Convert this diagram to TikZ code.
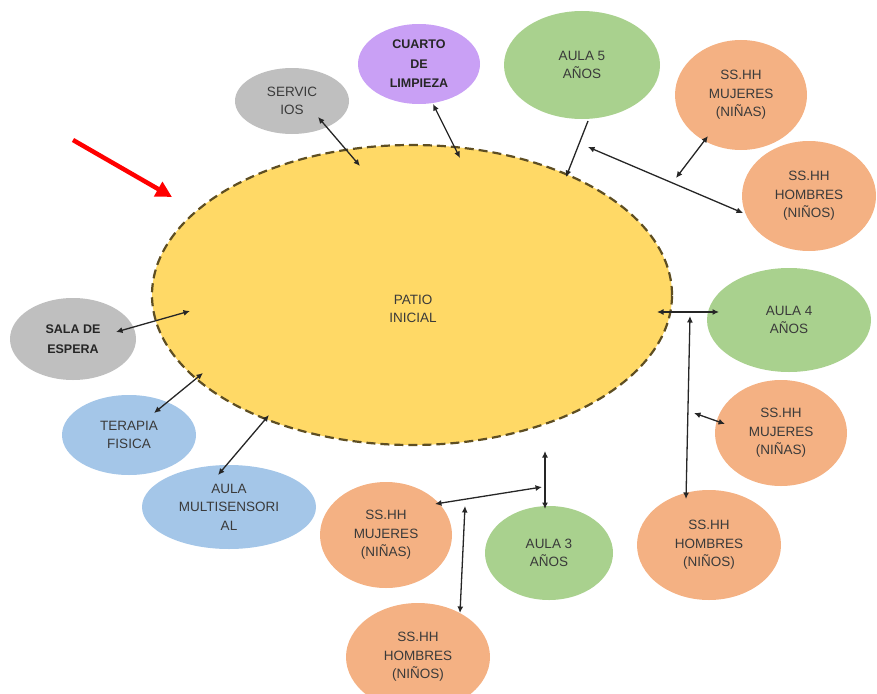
\documentclass[tikz,border=0pt]{standalone}
\usepackage{fontspec}
\setmainfont{Liberation Sans}
\usetikzlibrary{shapes.geometric,arrows.meta}
\definecolor{patiofill}{HTML}{FFD966}
\definecolor{patioline}{HTML}{5E4E22}
\definecolor{grayfill}{HTML}{BFBFBF}
\definecolor{purplefill}{HTML}{C9A0F5}
\definecolor{greenfill}{HTML}{A9D18E}
\definecolor{orangefill}{HTML}{F4B183}
\definecolor{bluefill}{HTML}{A4C6E8}
\definecolor{txt}{HTML}{3A3A3A}
\tikzset{
  room/.style={ellipse, inner sep=0pt, text=txt, align=center,
    font=\fontsize{13.5}{18.5}\selectfont},
  boldroom/.style={room, text=black!85, font=\bfseries\fontsize{12.5}{19.5}\selectfont},
  conn/.style={line width=1.3pt, draw=black!85, {Latex[length=6.5pt,width=6pt]}-{Latex[length=6.5pt,width=6pt]}},
  conn1/.style={line width=1.3pt, draw=black!85, -{Latex[length=6.5pt,width=6pt]}},
}
\begin{document}
\begin{tikzpicture}[x=1pt,y=-1pt]
\useasboundingbox (0,0) rectangle (877,693);
% main patio
\node[ellipse, inner sep=0pt, fill=patiofill, draw=patioline, line width=2.2pt, dash pattern=on 9pt off 5pt,
  minimum width=520pt, minimum height=300pt] (patio) at (412,295) {};
\node[room] (patiotext) at (413,309) {PATIO\\INICIAL};
% rooms
\node[room, fill=grayfill, minimum width=114pt, minimum height=66pt] (serv) at (292,101) {SERVIC\\IOS};
\node[boldroom, fill=purplefill, minimum width=122pt, minimum height=80pt] (cuarto) at (419,64) {CUARTO\\DE\\LIMPIEZA};
\node[room, fill=greenfill, minimum width=156pt, minimum height=108pt] (aula5) at (582,65) {AULA 5\\AÑOS};
\node[room, fill=orangefill, minimum width=132pt, minimum height=110pt] (muj1) at (741,95) {SS.HH\\MUJERES\\(NIÑAS)};
\node[room, fill=orangefill, minimum width=134pt, minimum height=110pt] (hom1) at (809,196) {SS.HH\\HOMBRES\\(NIÑOS)};
\node[room, fill=greenfill, minimum width=164pt, minimum height=104pt] (aula4) at (789,320) {AULA 4\\AÑOS};
\node[room, fill=orangefill, minimum width=132pt, minimum height=106pt] (muj2) at (781,433) {SS.HH\\MUJERES\\(NIÑAS)};
\node[room, fill=orangefill, minimum width=144pt, minimum height=110pt] (hom2) at (709,545) {SS.HH\\HOMBRES\\(NIÑOS)};
\node[room, fill=greenfill, minimum width=128pt, minimum height=94pt] (aula3) at (549,553) {AULA 3\\AÑOS};
\node[room, fill=orangefill, minimum width=132pt, minimum height=106pt] (muj3) at (386,535) {SS.HH\\MUJERES\\(NIÑAS)};
\node[room, fill=orangefill, minimum width=144pt, minimum height=108pt] (hom3) at (418,657) {SS.HH\\HOMBRES\\(NIÑOS)};
\node[boldroom, fill=grayfill, minimum width=126pt, minimum height=82pt] (sala) at (73,339) {SALA DE\\ESPERA};
\node[room, fill=bluefill, minimum width=134pt, minimum height=80pt] (terapia) at (129,435) {TERAPIA\\FISICA};
\node[room, fill=bluefill, minimum width=174pt, minimum height=84pt] (multi) at (229,507) {AULA\\MULTISENSORI\\AL};
% connector end points
\coordinate (a1) at (318,117); \coordinate (b1) at (360,166);
\coordinate (a2) at (433,104); \coordinate (b2) at (460,158);
\coordinate (a3) at (588,121); \coordinate (b3) at (566,177);
\coordinate (a4) at (588,147); \coordinate (b4) at (743,213);
\coordinate (a5) at (708,136); \coordinate (b5) at (676,178);
\coordinate (a6) at (657,312); \coordinate (b6) at (719,312);
\coordinate (a7) at (690,316); \coordinate (b7) at (686,499);
\coordinate (a8) at (694,413); \coordinate (b8) at (725,424);
\coordinate (a9) at (545,451); \coordinate (b9) at (545,509);
\coordinate (a10) at (435,504); \coordinate (b10) at (542,487);
\coordinate (a11) at (465,506); \coordinate (b11) at (460,613);
\coordinate (a12) at (116,332); \coordinate (b12) at (190,311);
\coordinate (a13) at (154,413); \coordinate (b13) at (203,373);
\coordinate (a14) at (218,475); \coordinate (b14) at (269,415);
% connectors
\draw[conn] (a1) -- (b1);
\draw[conn] (a2) -- (b2);
\draw[conn1] (a3) -- (b3);
\draw[conn] (a4) -- (b4);
\draw[conn] (a5) -- (b5);
\draw[conn] (a6) -- (b6);
\draw[conn] (a7) -- (b7);
\draw[conn] (a8) -- (b8);
\draw[conn] (a9) -- (b9);
\draw[conn] (a10) -- (b10);
\draw[conn] (a11) -- (b11);
\draw[conn] (a12) -- (b12);
\draw[conn] (a13) -- (b13);
\draw[conn] (a14) -- (b14);
% red arrow
\coordinate (r1) at (73,140); \coordinate (r2) at (172,197);
\draw[red, line width=4.5pt, -{Triangle[length=16pt,width=16pt]}] (r1) -- (r2);
\end{tikzpicture}
\end{document}
